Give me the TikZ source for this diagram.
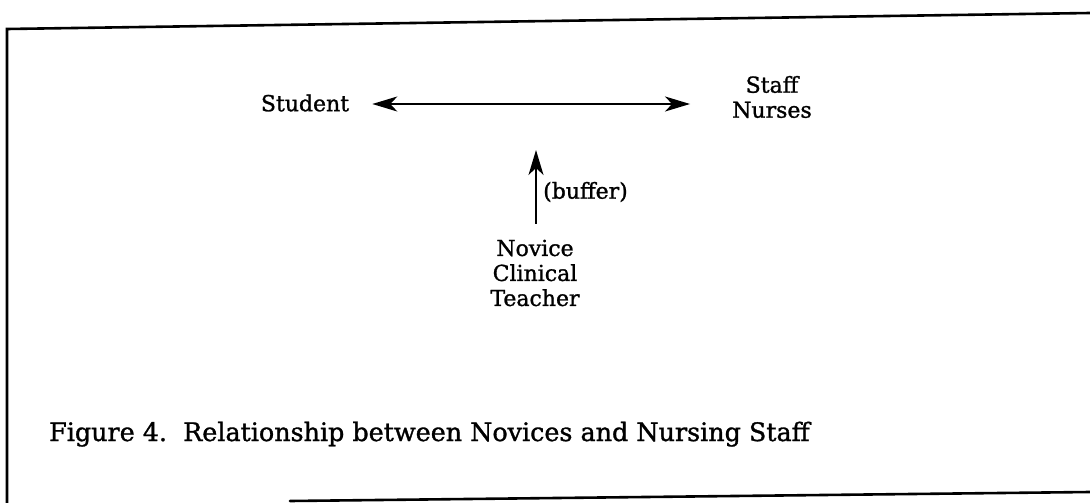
\documentclass[tikz,border=0pt]{standalone}
\usepackage{fontspec}
\setmainfont{DejaVu Serif}[FakeBold=1.2]
\usetikzlibrary{arrows.meta}
\tikzset{
  frameline/.style={line width=2.6pt, line cap=round},
  label/.style={font=\fontsize{22}{25}\selectfont, inner sep=0pt, align=center},
  captiontext/.style={font=\fontsize{25.4}{30}\selectfont, inner sep=0pt, anchor=base west},
  link/.style={line width=1.4pt, -{Stealth[length=25pt, width=15pt, inset=7pt]}},
  twoway/.style={line width=1.4pt, {Stealth[length=25pt, width=15pt, inset=7pt]}-{Stealth[length=25pt, width=15pt, inset=7pt]}}
}
\begin{document}
\begin{tikzpicture}[x=1pt, y=-1pt]
  \useasboundingbox (0,0) rectangle (1090,503);
  % outer frame (left, top and partial bottom rule)
  \draw[frameline] (7,503) -- (7,29) -- (1090,13);
  \draw[frameline] (290,501) -- (1090,492);

  % the three parties
  \node[label] (student) at (305,103) {Student};
  \node[label] (staff) at (772,97) {Staff\\Nurses};
  \node[label] (novice) at (535,273) {Novice\\Clinical\\Teacher};
  \node[label, anchor=west] (buffer) at (543,192) {(buffer)};

  % relationships
  \draw[twoway, shorten <=23pt, shorten >=42pt]
    ([yshift=-1pt]student.east) -- ([yshift=-1pt]student.east -| staff.west);
  \coordinate (bufend) at (536,150);
  \draw[link, shorten <=16pt] (novice.north -| bufend) -- (bufend);

  % caption
  \node[captiontext] (caption) at (49,441) {Figure 4.\ \ Relationship between Novices and Nursing Staff};
\end{tikzpicture}
\end{document}
